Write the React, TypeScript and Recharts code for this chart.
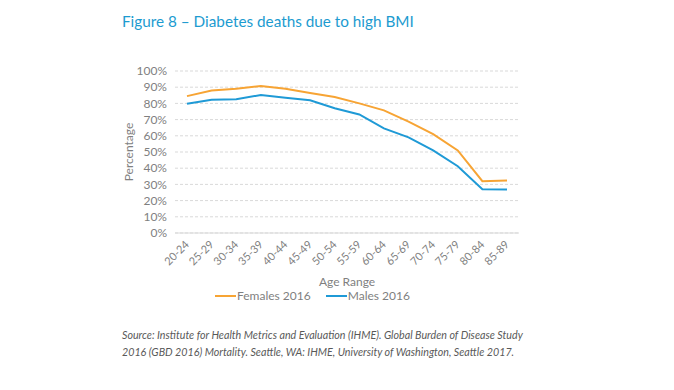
import React from 'react'
import { LineChart, Line, XAxis, YAxis, CartesianGrid, Legend } from 'recharts'

const AGE_RANGES = ['20-24', '25-29', '30-34', '35-39', '40-44', '45-49', '50-54', '55-59', '60-64', '65-69', '70-74', '75-79', '80-84', '85-89']
const FEMALES_2016 = [84.5, 88, 89, 90.7, 89, 86.4, 84, 80, 75.7, 68.7, 61, 51, 32, 32.4]
const MALES_2016 = [79.8, 82.3, 82.5, 85.2, 83.5, 81.9, 77, 73.2, 64.6, 59, 51, 41.2, 27, 26.8]
const Y_TICKS = [0, 10, 20, 30, 40, 50, 60, 70, 80, 90, 100]

const FONT = "Lato, 'Noto Sans', sans-serif"
const GREY = '#7F7F7F'
const ORANGE = '#F7A434'
const BLUE = '#1F9AD6'

const data = AGE_RANGES.map((age, i) => ({ age, females: FEMALES_2016[i], males: MALES_2016[i] }))

function AgeTick({ x, y, payload }: any) {
  return (
    <text x={x} y={y} dy={7} dx={4} textAnchor="end" transform={`rotate(-45, ${x}, ${y + 7})`}
      fill={GREY} fontSize={11} fontFamily={FONT}>
      {payload.value}
    </text>
  )
}

function LegendContent() {
  const items = [
    { label: 'Females 2016', color: ORANGE },
    { label: 'Males 2016', color: BLUE },
  ]
  return (
    <div style={{ display: 'flex', gap: 15, fontFamily: FONT, fontSize: 12, color: GREY, lineHeight: '16px' }}>
      {items.map(it => (
        <div key={it.label} style={{ display: 'flex', alignItems: 'center' }}>
          <span style={{ display: 'inline-block', width: 21, height: 2, background: it.color, marginRight: 1 }} />
          <span>{it.label}</span>
        </div>
      ))}
    </div>
  )
}

export default function App() {
  return (
    <div style={{ position: 'absolute', left: 0, top: 0, width: 674, height: 390, background: '#fff', fontFamily: FONT }}>
      <div style={{ position: 'absolute', left: 122, top: 12, fontSize: 15.3, color: '#1C9BD0', whiteSpace: 'nowrap' }}>
        Figure 8 – Diabetes deaths due to high BMI
      </div>
      <LineChart width={674} height={390} data={data} margin={{ top: 71, right: 155, left: 125, bottom: 86 }}>
        <CartesianGrid vertical={false} stroke="#D9D9D9" strokeDasharray="3 2" />
        <XAxis dataKey="age" interval={0} height={55} padding={{ left: 12, right: 12 }}
          tick={<AgeTick />} tickLine={false} axisLine={{ stroke: '#D9D9D9', strokeWidth: 1 }}
          label={{ value: 'Age Range', position: 'insideBottom', offset: 2, fill: GREY, fontSize: 12, fontFamily: FONT }} />
        <YAxis width={50} domain={[0, 100]} ticks={Y_TICKS} interval={0} tickFormatter={(v: number) => `${v}%`}
          tickLine={false} axisLine={false} tickMargin={2}
          tick={{ fill: GREY, fontSize: 12, fontFamily: FONT }}
          label={{ value: 'Percentage', angle: -90, position: 'insideLeft', offset: 0, dx: 4, fill: GREY, fontSize: 12, fontFamily: FONT, style: { textAnchor: 'middle' } }} />
        <Legend verticalAlign="bottom" content={<LegendContent />} wrapperStyle={{ left: 215, width: 220 }} />
        <Line type="linear" dataKey="females" name="Females 2016" stroke={ORANGE} strokeWidth={2} dot={false} isAnimationActive={false} />
        <Line type="linear" dataKey="males" name="Males 2016" stroke={BLUE} strokeWidth={2} dot={false} isAnimationActive={false} />
      </LineChart>
      <div style={{ position: 'absolute', left: 122, top: 326, fontSize: 10.7, fontStyle: 'italic', color: '#595959', lineHeight: '17px', whiteSpace: 'nowrap' }}>
        Source: Institute for Health Metrics and Evaluation (IHME). Global Burden of Disease Study<br />
        2016 (GBD 2016) Mortality. Seattle, WA: IHME, University of Washington, Seattle 2017.
      </div>
    </div>
  )
}
